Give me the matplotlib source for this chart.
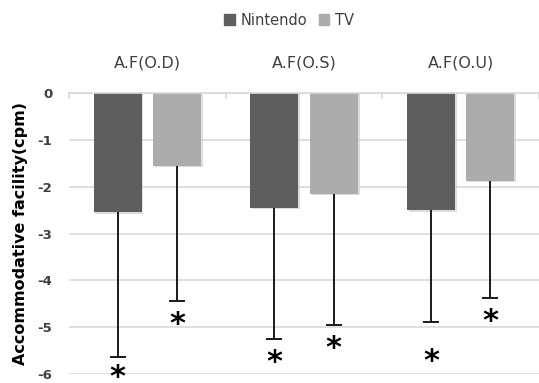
import matplotlib.pyplot as plt
from matplotlib.patches import Patch
import numpy as np

categories = ["A.F(O.D)", "A.F(O.S)", "A.F(O.U)"]
nintendo_mean = [-2.55, -2.45, -2.50]
nintendo_sd = [3.08, 2.81, 2.39]
tv_mean = [-1.55, -2.15, -1.87]
tv_sd = [2.89, 2.81, 2.51]

dark = "#5e5e5e"
light = "#acacac"
grid = "#d9d9d9"
txt = "#404040"

fig = plt.figure(figsize=(5.39, 3.83), dpi=100)
ax = fig.add_axes([0.128, 0.0235, 0.872, 0.7335])

x = np.arange(len(categories))
w = 0.306
off = 0.19

series = [
    (x - off, nintendo_mean, nintendo_sd, dark, [0.45, 0.5, 0.85]),
    (x + off, tv_mean, tv_sd, light, [0.5, 0.5, 0.5]),
]
for xs, mean, sd, col, drop in series:
    mean = np.array(mean)
    sd = np.array(sd)
    # soft drop shadow behind each bar
    ax.bar(xs + 0.012, mean - 0.03, w, color="#cfcfcf", zorder=1.5, alpha=0.7)
    ax.bar(xs, mean, w, color=col, zorder=2)
    ends = mean - sd
    ax.vlines(xs, ends, mean, color="#1a1a1a", lw=1.4, zorder=3)
    ax.plot(xs, ends, ls="none", marker="_", ms=11, mew=1.4,
            color="#1a1a1a", zorder=3)
    for xi, yi, d in zip(xs, ends, drop):
        ax.text(xi, yi - d, "*", fontsize=22, fontweight="bold",
                ha="center", va="center", color="black", clip_on=False)

ax.set_xlim(-0.5, 2.5)
ax.set_ylim(-6, 0)
ax.set_yticks(range(-6, 1))
ax.set_yticklabels([str(v) for v in range(-6, 1)])
ax.yaxis.grid(True, color=grid, lw=1.2, zorder=0)
ax.set_axisbelow(True)

ax.xaxis.tick_top()
ax.set_xticks(x)
ax.set_xticklabels(categories, fontsize=11.5, color=txt)
ax.set_xticks([-0.5, 0.5, 1.5, 2.5], minor=True)
ax.tick_params(axis="x", which="major", length=0, pad=16)
ax.tick_params(axis="x", which="minor", direction="in", length=4.5,
               color=grid, width=1.2, top=True, bottom=False)
ax.tick_params(axis="y", length=0, pad=12, labelsize=9.5, labelcolor=txt)
for lab in ax.get_yticklabels():
    lab.set_fontweight("bold")

for s in ["left", "right", "bottom"]:
    ax.spines[s].set_visible(False)
ax.spines["top"].set_color(grid)
ax.spines["top"].set_linewidth(1.2)

ax.set_ylabel("Accommodative facility(cpm)", fontsize=11.5,
              fontweight="bold", color="black", labelpad=7)

handles = [Patch(color=dark, label="Nintendo"), Patch(color=light, label="TV")]
fig.legend(handles=handles, loc="center", bbox_to_anchor=(0.536, 0.947),
           ncol=2, frameon=False, fontsize=10.5, handlelength=0.75,
           handleheight=0.75, handletextpad=0.35, columnspacing=0.8,
           labelcolor=txt)

fig.savefig("out.png", dpi=100)
